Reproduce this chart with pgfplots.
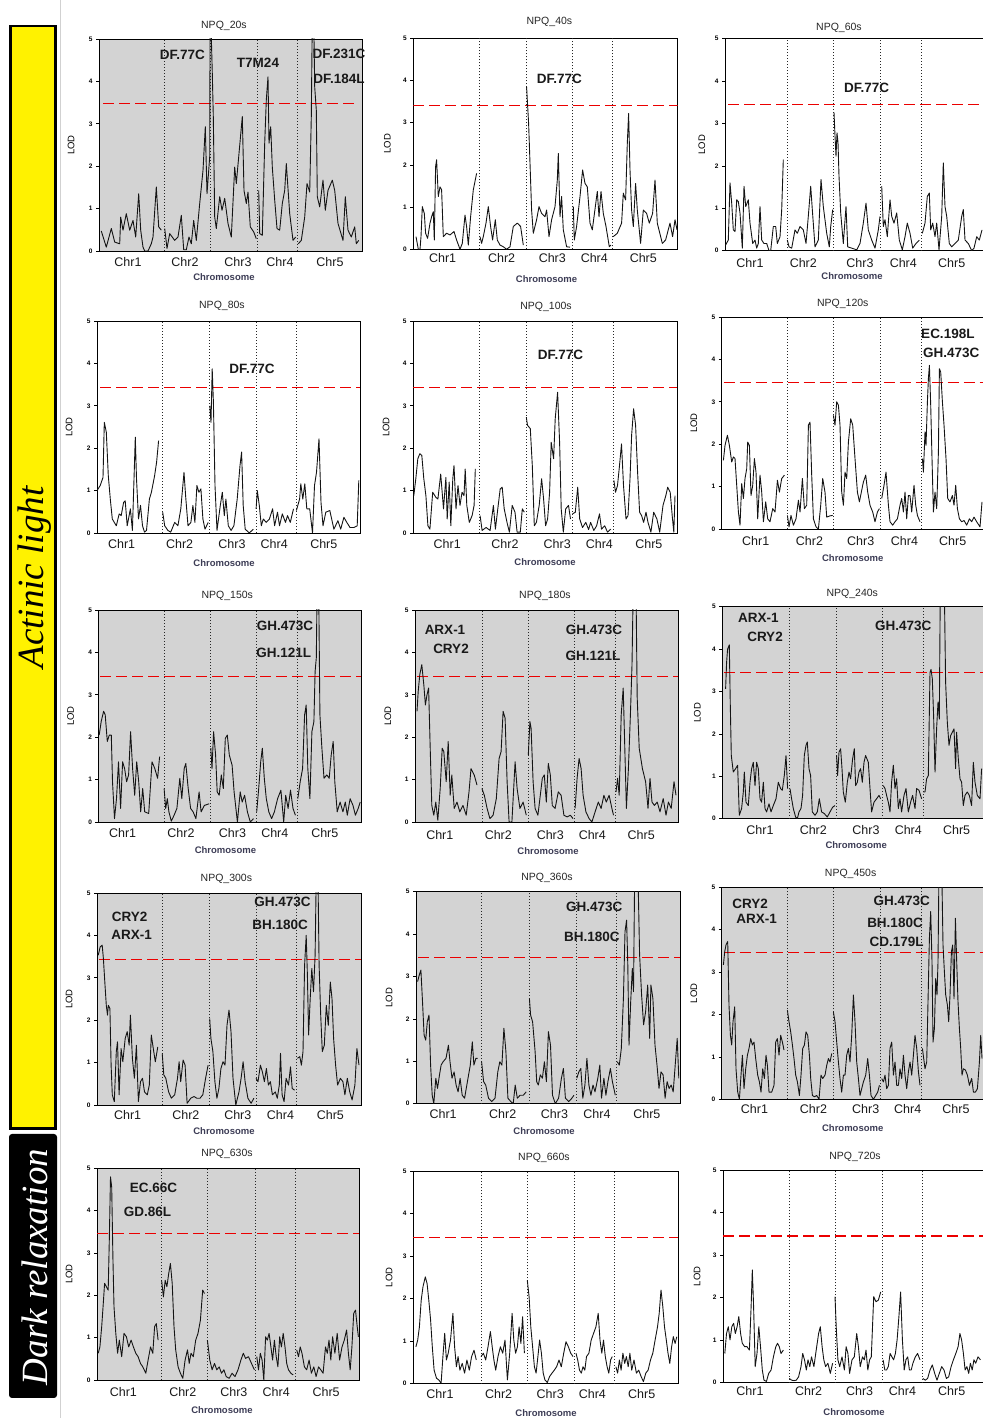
\documentclass[border=0pt]{standalone}
\usepackage{pgfplots}
\pgfplotsset{compat=1.18}
\usepackage{fontspec}
\setmainfont{Liberation Sans}
\newfontfamily\barfont{Liberation Serif}

\definecolor{panelgray}{RGB}{211,211,211}
\definecolor{chromcol}{RGB}{60,60,85}
\definecolor{thr}{RGB}{235,0,0}

\pgfplotsset{
  qtl/.style={
    scale only axis, height=212pt,
    xmin=0, ymin=0, ymax=5,
    ytick={0,1,2,3,4,5},
    ytick pos=left,
    tick align=outside,
    major tick length=3pt,
    ytick style={black, line width=0.6pt},
    xtick style={draw=none},
    every axis title shift=0pt,
    /pgf/number format/assume math mode=true,
    yticklabel style={font=\fontsize{6.5}{7}\selectfont\bfseries, xshift=0pt},
    xticklabels={Chr1,Chr2,Chr3,Chr4,Chr5},
    xticklabel style={font=\fontsize{12.5}{14}\selectfont, anchor=center, text=black!90},
    axis line style={line width=0.8pt},
    clip mode=individual,
    unbounded coords=jump,
    xlabel={Chromosome},
    ylabel={LOD},
    xlabel style={font=\fontsize{9.5}{11}\selectfont\bfseries, text=chromcol, anchor=center},
    ylabel style={font=\fontsize{9.5}{10}\selectfont, anchor=center},
    title style={font=\fontsize{10.5}{12}\selectfont, anchor=center, text=black!85},
  },
  graybg/.style={axis background/.style={fill=panelgray}},
}
\tikzset{
  lodline/.style={black!92, line width=0.9pt, line join=round},
  thrline/.style={thr, line width=1.1pt, dash pattern=on 11pt off 5pt},
  bnd/.style={black!85, line width=0.8pt, dash pattern=on 0.8pt off 2.2pt},
  mk/.style={font=\fontsize{13.5}{15}\selectfont\bfseries, text=black!90},
}
% dotted chromosome boundaries
\newcommand\chrbounds[4]{%
  \draw[bnd] (axis cs:#1,0)--(axis cs:#1,5) (axis cs:#2,0)--(axis cs:#2,5)
             (axis cs:#3,0)--(axis cs:#3,5) (axis cs:#4,0)--(axis cs:#4,5);}

\begin{document}
\begin{tikzpicture}
\useasboundingbox (0,0) rectangle (982pt,1418pt);

% side bars
\draw[black!18, line width=0.8pt] (60pt,0pt) -- (60pt,1418pt);
\draw[line width=2.6pt, fill=yellow] (10.3pt,289.3pt) rectangle (55.7pt,1392pt);
\node[rotate=90, font=\barfont\itshape\fontsize{37}{40}\selectfont] at (35pt,840.5pt) {Actinic light};
\fill[black, rounded corners=3pt] (9pt,20pt) rectangle (57pt,284pt);
\node[rotate=90, text=white, font=\barfont\itshape\fontsize{37}{40}\selectfont] at (35pt,151pt) {Dark relaxation};

%% ---------- NPQ_20s ----------
\begin{axis}[qtl, graybg, at={(99pt,1167pt)}, anchor=south west, width=263pt, xmax=263,
  xtick={29,86,139,181,231}, xticklabel style={yshift=-8pt},
  title={NPQ\_20s}, title style={at={(axis description cs:0.475,1.061)}},
  xlabel style={at={(axis description cs:0.475,-0.123)}},
  ylabel style={at={(axis description cs:-0.106,0.5)}}]
\chrbounds{65}{111.3}{158.7}{198.7}
\addplot[thrline] coordinates {(4,3.47) (257,3.47)};
\addplot[lodline] coordinates {
(2.3,0.47)(7.3,0.09)(12.3,0.53)(15.7,0.21)(20.7,0.17)(21.7,0.8)(24,0.49)(27.3,0.88)(30.7,0.49)(34,0.72)(36.7,0.33)(39.7,1.35)(41.7,0.49)(44,0.09)(45.7,0)(49,0)(52.3,0.17)(54,0.33)(57.3,1.51)(59.7,0.57)(62.3,0.49)
(64,nan)
(65.7,0.53)(68,0.06)(70.7,0.41)(75.7,0.25)(79,0.33)(82.3,0.84)(84.7,0.03)(87.3,0.03)(90,0.33)(92.3,0.17)(94.7,0.72)(97.3,0.25)(100.7,1.12)(104,1.9)(106.3,2.93)(108,1.35)(110.7,2.22)(111.1,5.5)
(111.5,nan)
(111.8,5.5)(113.3,4.19)(114.3,3.17)(115.7,0.8)(117.3,0.53)(120.7,1.28)(123,0.96)(125.7,1.24)(129,0.65)(132.3,0.33)(135.7,1.98)(137.3,1.59)(140,2.3)(143.3,3.17)(145,1.43)(147.3,1.12)(149,1.39)(151.3,0.57)(154.7,0.45)(157.3,0.29)
(158.7,nan)
(159.7,1.43)(160.7,0.41)(163.3,0.37)(165.7,2.54)(167.3,3.56)(169,4.11)(170,2.54)(171.7,2.93)(173.3,1.98)(175.7,1.2)(178,0.53)(180.7,0.49)(183.3,1.12)(185.7,1.43)(187.3,2.06)(190.7,0.88)(194,0.25)(196.7,0.33)
(198.7,nan)
(199.3,0.17)(202.3,0.25)(205.7,0.8)(208,1.59)(210.7,1.39)(212.3,3.17)(213.3,5.5)(214.7,5.5)(215.7,3.87)(217.3,3.32)(218.3,1.28)(220.7,1.04)(224,1.67)(226.3,0.96)(229,1.43)(233.3,1.67)(235.7,1.43)(239,0.65)(244,0.25)(246.3,1.28)(249,0.49)(252.3,0.33)(255.7,0.57)(257.3,0.17)(259.7,0.25)
};
\node[mk] at (axis cs:83.3,4.62) {DF.77C};
\node[mk] at (axis cs:159,4.43) {T7M24};
\node[mk] at (axis cs:240,4.66) {DF.231C};
\node[mk] at (axis cs:240,4.07) {DF.184L};
\end{axis}

%% ---------- NPQ_40s ----------
\begin{axis}[qtl, at={(413.3pt,1168.7pt)}, anchor=south west, width=264.3pt, height=211pt, xmax=264.3,
  xtick={29.3,88.3,139,181,230}, xticklabel style={yshift=-6pt},
  title={NPQ\_40s}, title style={at={(axis description cs:0.515,1.08)}},
  xlabel style={at={(axis description cs:0.504,-0.142)}},
  ylabel style={at={(axis description cs:-0.098,0.5)}}]
\chrbounds{66}{113.3}{159.3}{199}
\addplot[thrline] coordinates {(0,3.40) (264.3,3.40)};
\addplot[lodline] coordinates {
(2.7,0.30)(5,0)(6.7,0)(7.7,0.3)(9,1.01)(11,0.85)(12.3,0.38)(14.3,0.26)(16.7,0.62)(18.3,0.77)(20,0.89)(21,0.22)(22.3,1.96)(23.3,2.12)(25,1.25)(26.7,1.48)(28.3,1.41)(30,0.3)(33.3,0.38)(36.7,0.34)(40.7,0.42)(43.3,0.22)(46.7,0)(49,0.14)(51.7,0.81)(53.3,0.54)(55,0.1)(57.3,0.77)(60,1.41)(63.3,1.8)
(66,nan)
(66.7,0.3)(68.3,0.14)(70,0.3)(72.7,0.62)(75,1.01)(77.3,0.54)(79.3,0.22)(82,0.7)(84,0.22)(86.7,0.1)(90,0.06)(93.3,0)(96.7,0.06)(100,0.54)(104,0.62)(107.3,0.54)(110,0.1)
(112,nan)
(113.3,3.85)(114,3.54)(115.3,2.99)(116.7,2.04)(118.3,0.93)(120,0.38)(123.3,0.7)(125.7,1.01)(128.3,0.85)(131.7,0.77)(133.3,0.93)(135.7,0.3)(138.3,0.7)(141.7,1.01)(144,1.64)(145,2.27)(146.7,0.77)(148.3,1.25)(150,0.46)(153.3,0.06)(156.7,0.05)
(159,nan)
(160,1.01)(161,0.22)(163.3,0.54)(166.7,1.25)(169.3,1.88)(171.7,1.56)(174,1.48)(176.7,0.62)(179,0.46)(184,1.37)(185.7,0.77)(187.7,1.37)(190,0.85)(192.7,0.54)(196,0.06)(197.7,0.1)
(199,nan)
(200,0.3)(204,0.38)(208.3,0.62)(210,1.33)(212.3,1.17)(214,2.51)(215.3,3.22)(216.7,1.88)(218.3,0.93)(220,0.54)(222.3,1.56)(224,0.93)(227.3,0.14)(230,0.93)(233.3,0.85)(236,0.62)(239.3,0.85)(241.7,1.64)(244,0.62)(249,0.14)(252.3,0.22)(256.7,0.62)(259.3,0.3)(261.7,0.7)(263.7,0.46)
};
\node[mk] at (axis cs:146,4.03) {DF.77C};
\end{axis}

%% ---------- NPQ_60s ----------
\begin{axis}[qtl, at={(725pt,1167.3pt)}, anchor=south west, width=262pt, xmax=262,
  xtick={25,78.3,135,178.3,226.7}, xticklabel style={yshift=-9pt},
  title={NPQ\_60s}, title style={at={(axis description cs:0.435,1.051)}},
  xlabel style={at={(axis description cs:0.485,-0.118)}},
  ylabel style={at={(axis description cs:-0.088,0.5)}}]
\chrbounds{62.3}{108.3}{155.7}{196}
\addplot[thrline] coordinates {(3.3,3.44) (262,3.44)};
\addplot[lodline] coordinates {
(0.5,0.13)(3.3,0.25)(5,1.6)(6.7,1.12)(8.3,0.49)(10,0.45)(11.7,1.2)(13.3,1.16)(15,0.89)(17.3,0.06)(19,1.52)(20.7,1.04)(23.3,1.2)(25,0.65)(27.7,0.17)(30,0.25)(31.7,0.06)(33.3,0.17)(35,1.04)(36.7,0.25)(39,0.17)(41.7,0.17)(44,0)(45.7,0)(48.3,0.57)(50.7,0.57)(52.3,0.17)(55,0.33)(56.7,0.97)(58.3,2.15)
(61,nan)
(62.3,0.25)(64,0.09)(66.7,0.06)(70,0.49)(72.3,0.41)(75,0.57)(78.3,0.49)(81,0.17)(83.3,0.81)(85.7,1.52)(87.3,0.97)(90,0.09)(93.3,0.25)(96,1.68)(98.3,1.04)(101.7,0.41)(104.3,0.09)(105.7,0.57)(107.7,0.97)
(108.3,nan)
(109,3.26)(110,2.71)(111,2.23)(112,2.78)(113,2.55)(114,1.76)(115.7,0.89)(118.3,0.17)(121,1.04)(122.7,0.09)(126.7,0.06)(131.7,0.02)(135,0.17)(138.3,0.65)(141,1.12)(143.3,0.49)(146.7,0.25)(150,0.06)(153.3,0.49)(155,0.81)
(155.8,nan)
(156.7,1.52)(158.3,0.57)(160,0.73)(162.3,0.33)(165,1.2)(166.7,0.81)(169,0.65)(171.7,0.89)(174.3,0.25)(177.3,0.02)(180,0.33)(182.3,0.65)(185,0.41)(187.7,0.06)(191,0.17)(194.3,0.25)
(196,nan)
(197.3,0.41)(200,0.65)(202.3,1.28)(204.3,1.36)(205.7,0.49)(207.7,0.65)(210,0.33)(211.7,0.65)(214,0.02)(216.7,0.81)(218.3,2.07)(220,1.04)(221.7,0.81)(224.3,0.17)(226.7,0.09)(230,0.17)(233.3,0.25)(236.7,0.81)(238.3,0.97)(240,0.25)(243.3,0.17)(246.7,0)(249,0.06)(251.7,0.33)(254.3,0.25)(257,0.49)
};
\node[mk] at (axis cs:141.7,3.85) {DF.77C};
\end{axis}

%% ---------- NPQ_80s ----------
\begin{axis}[qtl, at={(97pt,885pt)}, anchor=south west, width=263pt, xmax=263,
  xtick={24.6,82.6,135,177.2,226.8}, xticklabel style={yshift=-8pt},
  title={NPQ\_80s}, title style={at={(axis description cs:0.475,1.07)}},
  xlabel style={at={(axis description cs:0.483,-0.142)}},
  ylabel style={at={(axis description cs:-0.106,0.5)}}]
\chrbounds{65.3}{112.8}{159.1}{199.4}
\addplot[thrline] coordinates {(3,3.43) (263,3.43)};
\addplot[lodline] coordinates {
(0,1.0)(3.2,1.12)(6,1.31)(7.3,2.61)(9.3,2.38)(11.3,1.35)(13.3,0.8)(15.3,0.33)(19.3,0.17)(22.2,0.45)(24.2,0.41)(26.6,0.72)(28.2,0.76)(30.2,0.17)(33.4,0.57)(35.4,0.06)(38.3,2.26)(39.5,1.28)(41.5,0.33)(43.5,0.65)(45.5,0.17)(47.5,0.02)(49.5,0.06)(52.4,0.8)(54.4,0.96)(57.6,1.35)(59.6,1.67)(61.6,2.18)
(63.5,nan)
(65.7,0.49)(67.7,0.17)(70.9,0.06)(73.7,0.02)(77.7,0.25)(80.9,0.17)(83.8,0.57)(87,1.43)(88.6,0.88)(91,0.17)(93.9,0.25)(95.9,0.65)(97.9,0.25)(99.9,1.12)(101.9,0.96)(103.9,1.04)(105.9,0.33)(108,0.09)(111.2,0.25)
(112,nan)
(112.8,3.0)(114,2.61)(115.2,3.87)(116.4,3.09)(118,1.12)(120,0.06)(123.3,0.65)(125.3,0.96)(127.3,0.41)(128.9,0.8)(131.3,0.17)(134.1,0.06)(136.9,0.17)(140.2,0.8)(143,1.59)(144.6,1.91)(146.2,0.65)(148.2,0.09)(152.3,0)(156.3,0.09)
(158,nan)
(159.1,0.57)(160.3,1.0)(162.3,0.65)(164.3,0.17)(166.3,0.33)(169.2,0.25)(172.4,0.33)(175.6,0.57)(177.6,0.17)(180.5,0.49)(182.5,0.17)(185.3,0.45)(188.5,0.25)(190.5,0.41)(193.3,0.25)(196.5,0.57)
(198,nan)
(199.4,0.53)(202.6,0.8)(203.8,1.16)(205.8,0.8)(207.8,1.16)(209.8,0.57)(212.7,0.57)(215.5,0)(217.5,1.12)(219.5,1.43)(222,2.22)(224,0.72)(226,0.17)(228.8,0.49)(232.8,0.53)(236.9,0.09)(240.9,0.29)(243.7,0.09)(246.9,0.37)(249.8,0.25)(253,0.13)(257,0.13)(260.2,0.17)(261.8,1.24)
};
\node[mk] at (axis cs:155,3.86) {DF.77C};
\end{axis}

%% ---------- NPQ_100s ----------
\begin{axis}[qtl, at={(413pt,885pt)}, anchor=south west, width=264pt, xmax=264,
  xtick={34.2,92,144.2,186.4,235.9}, xticklabel style={yshift=-8pt},
  title={NPQ\_100s}, title style={at={(axis description cs:0.504,1.065)}},
  xlabel style={at={(axis description cs:0.5,-0.137)}},
  ylabel style={at={(axis description cs:-0.102,0.5)}}]
\chrbounds{66.3}{113.3}{159.5}{200.5}
\addplot[thrline] coordinates {(0,3.43) (264,3.43)};
\addplot[lodline] coordinates {
(0.8,0.88)(2.8,1.28)(4.8,1.75)(6.8,1.87)(8.8,1.83)(10.8,1.28)(12.9,0.88)(14.9,0.17)(16.9,0.09)(19.7,0.96)(22.9,0.84)(24.9,0.8)(27.7,1.39)(30.5,0.57)(32.9,1.31)(34.2,0.33)(36.2,1.2)(37.8,0.17)(39.8,1.28)(41,1.59)(43,0.57)(45,1.12)(47,0.65)(49,0.96)(51,0.88)(52.2,1.51)(53.8,0.65)(56.3,0.25)(59.1,0.41)(61.1,0.65)(62.3,1.51)
(64,nan)
(67.1,0.41)(69.1,0.06)(73.1,0.13)(77.1,0.06)(80.4,0.65)(82.4,0.09)(85.2,0.65)(87.2,1.04)(89.2,1.08)(91.2,0.57)(94,0.25)(96.4,0.02)(99.2,0.65)(102,0.49)(104.1,0.02)(107.3,0.02)(109.3,0.57)(111.3,0.49)
(112.3,nan)
(113.3,2.73)(114.5,2.54)(117.3,2.46)(119.3,1.59)(121.3,0.17)(123.4,0.25)(126.2,0.65)(128.6,1.28)(130.6,0.8)(132.6,0.17)(134.6,0.33)(136.6,0.96)(138.2,2.14)(140.6,1.75)(142.2,2.69)(144.6,3.32)(146.6,2.14)(148.2,0.57)(150.3,0.02)(152.7,0.57)(155.5,0.65)(157.5,0.33)
(158.5,nan)
(159.5,0.45)(162.3,0.49)(164.7,1.08)(166.7,0.33)(169.5,0.13)(172.8,0.25)(175.6,0.08)(177.6,0.25)(180.8,0.06)(183.6,0.17)(186.5,0.45)(188.5,0.09)(191.7,0.17)(194.5,0.02)(197.7,0.09)
(199.5,nan)
(200.9,1.24)(202.5,0.96)(204.5,1.12)(206.5,1.59)(208.5,2.1)(210.5,1.12)(213,0.33)(215,0.41)(217,1.28)(218.6,2.3)(220.6,2.93)(222.6,2.54)(224.6,1.43)(226.6,0.49)(228.6,0.41)(230.6,0.25)(233,0.49)(235,0.25)(237.9,0.02)(240.7,0.49)(243.9,0.33)(246.7,0.02)(250,0.65)(252.8,0.88)(254.7,1.08)(257.2,0.96)(259.2,0.41)(260.8,0.02)(262,0.88)
};
\node[mk] at (axis cs:147.5,4.19) {DF.77C};
\end{axis}

%% ---------- NPQ_120s ----------
\begin{axis}[qtl, at={(721.7pt,889pt)}, anchor=south west, width=262pt, xmax=262,
  xtick={34,87.7,139,182.7,231}, xticklabel style={yshift=-9pt},
  title={NPQ\_120s}, title style={at={(axis description cs:0.462,1.061)}},
  xlabel style={at={(axis description cs:0.5,-0.137)}},
  ylabel style={at={(axis description cs:-0.106,0.5)}}]
\chrbounds{65.7}{111.7}{159}{200}
\addplot[thrline] coordinates {(2,3.46) (262,3.46)};
\addplot[lodline] coordinates {
(1.7,1.62)(3.3,1.97)(5.7,2.21)(7.7,1.97)(10,1.58)(11.7,1.7)(13.3,1.66)(15,1.03)(16.7,0.4)(18.3,0.09)(20,1.07)(21.7,0.72)(23.3,1.19)(25,1.42)(26,2.05)(27.7,1.97)(29.3,0.79)(31,1.03)(32.7,1.66)(34.3,1.34)(36,0.24)(38.3,1.27)(40,0.87)(41.7,0.17)(44,0.64)(46,0.24)(48.3,0.17)(51,0.48)(53.3,0.4)(55.7,1.15)(57.7,0.87)(60,1.19)(62.7,1.27)
(64.5,nan)
(65.7,0.32)(67.3,0.05)(69.3,0.32)(71.7,0.09)(74.3,0.24)(76.7,0.68)(78.3,0.4)(80.7,1.19)(82.7,0.48)(85,0.56)(86.7,2.45)(88.3,2.52)(90,1.27)(91.7,0.24)(94.3,0.05)(96.7,0)(99,0.56)(101,1.19)(103.3,0.87)(105,0.28)(108.3,0.31)(111,0.32)
(111.4,nan)
(111.7,2.68)(113.3,2.45)(115,3.0)(116.7,2.92)(118.3,2.45)(120,0.87)(121.7,0.56)(123.3,1.34)(125,1.19)(126.7,2.05)(129,2.6)(131,2.45)(133.3,1.66)(135.7,0.87)(137.7,0.64)(139.3,0.83)(141.7,1.11)(144,1.27)(146,0.87)(148.3,0.56)(151,0.4)(153.3,0.17)(155.7,0.4)(157.7,0.48)
(159,nan)
(160,0.72)(162.3,1.03)(164.3,1.34)(166.7,0.56)(168.3,0.17)(171,0.09)(173.3,0.17)(175.7,0.24)(178.3,0.56)(180,0.72)(181.7,0.4)(183.3,0.87)(185,0.24)(186.7,0.79)(188.3,0.79)(190,0.4)(192.3,1.03)(194,0.56)(195.7,0.32)(198.3,0.17)
(199.5,nan)
(200.7,1.66)(201.7,1.34)(203.3,2.29)(204.3,1.97)(205.7,3.0)(206.7,3.55)(207.7,3.86)(209,2.92)(210.3,1.66)(211.7,0.4)(213.3,0.87)(215,0.48)(216.7,1.82)(217.7,3.78)(219,3.7)(220.7,3.0)(222.3,2.45)(224.3,1.66)(226,0.72)(228.3,0.64)(230.7,0.79)(232.3,0.56)(234,1.03)(235.7,0.48)(237.7,0.24)(240,0.17)(242.3,0.2)(245,0.09)(247.7,0.24)(250,0.17)(252.3,0.28)(255,0.17)(258.3,0.05)(260.3,0.64)
};
\node[mk, anchor=west] at (axis cs:196,4.61) {EC.198L};
\node[mk, anchor=west] at (axis cs:197.8,4.15) {GH.473C};
\end{axis}

%% ---------- NPQ_150s ----------
\begin{axis}[qtl, graybg, at={(98.4pt,596pt)}, anchor=south west, width=263pt, xmax=263,
  xtick={24.2,82.6,134.1,176.4,226.4}, xticklabel style={yshift=-8pt},
  title={NPQ\_150s}, title style={at={(axis description cs:0.49,1.065)}},
  xlabel style={at={(axis description cs:0.483,-0.132)}},
  ylabel style={at={(axis description cs:-0.106,0.5)}}]
\chrbounds{65.7}{112.4}{158.3}{198.6}
\addplot[thrline] coordinates {(2,3.44) (263,3.44)};
\addplot[lodline] coordinates {
(0.8,2.05)(2.8,2.37)(5.2,2.61)(6.8,2.53)(8.9,1.9)(10.9,2.05)(12.9,2.05)(14.1,0.95)(16.1,0.08)(18.1,0.55)(20.1,1.42)(22.2,0.32)(24.2,1.42)(26.2,1.26)(28.2,0.95)(30.2,1.11)(32.2,2.13)(34.2,1.26)(36.3,0.63)(38.3,1.42)(40.3,0.95)(42.3,0.24)(44.3,0.79)(46.3,0.24)(50.3,0.2)(53.6,1.42)(56.4,1.26)(59.2,1.03)(61.2,1.54)
(63.5,nan)
(65.7,0.79)(67.3,0.32)(68.9,0.55)(70.5,0.24)(72.9,0.02)(75.7,0.16)(78.5,0.32)(81.4,1.03)(83.4,0.55)(85.8,1.26)(87.4,1.38)(89.8,0.79)(92.2,0.32)(94.7,0.24)(97.5,0.08)(100.7,0.71)(102.7,0.24)(105.9,0.39)(110.8,0.43)
(111.6,nan)
(112.4,1.74)(113.6,1.26)(115.2,2.13)(117.2,1.58)(118.8,0.71)(120.8,0.63)(122.9,1.11)(124.9,0.79)(126.9,1.97)(128.9,2.05)(130.9,1.58)(133.7,1.34)(135.7,0.71)(139,0)(141.8,0.71)(143.8,0.47)(146.2,0.63)(149,0.24)(151.9,0)(155.1,0.08)
(157,nan)
(158.3,0.24)(160.3,0.79)(162.3,1.42)(163.9,1.74)(165.9,1.03)(167.9,0.55)(170.4,0.24)(173.2,0.08)(176,0.24)(179.2,0.55)(182.5,0.75)(185.3,0)(187.3,0.63)(189.7,0.32)(192.1,0.75)(194.6,0.32)(197,0.16)
(198.5,nan)
(199.4,0.55)(201.8,0.95)(204.2,1.26)(206.2,2.53)(207.8,2.76)(209.4,1.26)(211.5,0.55)(213.5,2.13)(215.5,2.37)(216.7,3.55)(217.9,3.87)(218.7,5.5)(220.3,5.5)(221.5,2.53)(223.5,1.74)(225.6,1.03)(228.4,1.11)(230.8,1.03)(232.8,1.58)(234.8,1.9)(236.4,0.95)(238.8,0.24)(241.7,0.47)(244.5,0.24)(246.9,0.47)(248.9,0.16)(251.7,0.55)(254.6,0.39)(257,0.16)(259.8,0.32)(261.8,0.47)
};
\node[mk] at (axis cs:186.5,4.62) {GH.473C};
\node[mk] at (axis cs:185.3,3.99) {GH.121L};
\end{axis}

%% ---------- NPQ_180s ----------
\begin{axis}[qtl, graybg, at={(415pt,596pt)}, anchor=south west, width=263pt, xmax=263,
  xtick={24.8,83.3,135.3,177.3,226.2}, xticklabel style={yshift=-10pt},
  title={NPQ\_180s}, title style={at={(axis description cs:0.494,1.065)}},
  xlabel style={at={(axis description cs:0.506,-0.137)}},
  ylabel style={at={(axis description cs:-0.103,0.5)}}]
\chrbounds{66.9}{113.3}{159.3}{200.2}
\addplot[thrline] coordinates {(2,3.44) (263,3.44)};
\addplot[lodline] coordinates {
(2,2.61)(3.2,3.08)(4.8,3.48)(6.8,3.71)(8.8,3.24)(10.4,2.76)(12,3.0)(13.6,3.16)(15.2,1.74)(16.8,0.39)(18.8,0.16)(20.8,0.47)(22.8,0.04)(25.2,0.79)(27.2,1.74)(28.8,1.66)(31.2,0.95)(33.2,1.9)(35.2,0.63)(36.8,1.11)(39.2,0.32)(42,0.47)(44.8,0.24)(48,0.39)(51.2,0.16)(54,0.71)(56,1.26)(59.2,1.11)(62,0.87)
(65,nan)
(66.9,0.79)(69.3,0.63)(72.1,0.32)(74.9,0.08)(78.1,0.16)(81.3,0.55)(84.1,1.5)(86.1,1.66)(88.1,2.61)(90.1,2.45)(92.1,0.95)(94.1,0)(96.9,0)(100.1,1.42)(102.1,0.79)(104.9,0.32)(108.1,0.47)(111.3,0.16)
(112.3,nan)
(113.3,1.58)(114.9,2.37)(116.1,2.21)(118.1,0.95)(120.1,0.32)(122.9,0.16)(125.3,0.63)(127.3,1.03)(129.3,1.11)(131.3,0.47)(133.3,1.38)(135.3,1.11)(137.3,0.39)(140.1,0.32)(143.3,0.71)(146.1,0.63)(148.9,0.16)(152.1,0.12)(155.3,0.16)(158.1,0.08)
(159,nan)
(160.1,0.32)(162.1,1.03)(164.1,1.5)(166.1,1.26)(168.1,0.63)(170.9,0.24)(174.1,0.08)(176.9,0)(180.1,0.24)(183.3,0.47)(186.1,0.32)(188.9,0.63)(191.3,0.47)(194.1,0.63)(196.9,0.32)(198.5,0.16)
(200,nan)
(201,0.71)(202.6,1.03)(204.2,0.63)(206.2,2.53)(208.2,3.16)(209.8,1.74)(211.4,0.32)(213.4,1.26)(215.4,2.53)(217,3.71)(218.2,5.5)(221,5.5)(222.2,2.92)(224.2,1.74)(227.4,1.26)(230.6,0.95)(233,0.32)(235,1.03)(237,0.47)(239.4,0.39)(242.2,0.47)(245,0.24)(248.2,0.55)(251,0.16)(253.4,0.47)(256.2,0.32)(259,0.95)(261,0.63)
};
\node[mk] at (axis cs:30,4.54) {ARX-1};
\node[mk] at (axis cs:36,4.08) {CRY2};
\node[mk] at (axis cs:179,4.54) {GH.473C};
\node[mk] at (axis cs:178.1,3.91) {GH.121L};
\end{axis}

%% ---------- NPQ_240s ----------
\begin{axis}[qtl, graybg, at={(722.3pt,599.3pt)}, anchor=south west, width=262pt, xmax=262,
  xtick={37.7,91,143.7,186,234.3}, xticklabel style={yshift=-8pt},
  title={NPQ\_240s}, title style={at={(axis description cs:0.496,1.061)}},
  xlabel style={at={(axis description cs:0.511,-0.123)}},
  ylabel style={at={(axis description cs:-0.095,0.5)}}]
\chrbounds{67}{114.3}{160.3}{201}
\addplot[thrline] coordinates {(2,3.45) (262,3.45)};
\addplot[lodline] coordinates {
(3.3,3.06)(4.3,3.69)(5.3,4.0)(7,4.1)(8,2.67)(9,1.49)(11,1.1)(13.3,1.18)(15.3,1.26)(17,0.08)(19.3,0.24)(21,0.63)(22,1.1)(23.7,0.39)(26,0.31)(27.7,0.86)(29.3,1.18)(31,1.33)(32.7,0.78)(34.3,1.33)(36,1.18)(37.7,0.47)(39.3,0.39)(41,0.86)(42.7,0.24)(44.3,0.16)(46.7,0.35)(48.7,0.16)(51,0.31)(53.7,0.47)(56,0.86)(58.3,0.71)(60,0.67)(62,1.02)(63.7,1.49)(65.3,0.71)
(66.5,nan)
(67.7,0.71)(69.3,0.47)(71,0.24)(73.3,0.04)(75,0)(76.7,0.16)(78.7,0.24)(80.3,0.55)(82,1.49)(83.7,1.73)(85,1.81)(86.7,1.18)(88.3,1.02)(90,0.16)(92.7,0.08)(95,0.16)(97,0.47)(99.3,0.16)(102,0.12)(105,0.04)(107.7,0.16)(110.3,0.27)(112.7,0.31)
(113.5,nan)
(114.3,1.49)(115.3,1.02)(116.7,1.57)(118.3,1.65)(119.7,1.18)(121,0.63)(123,0.39)(125,0.86)(126.7,1.1)(128.3,0.94)(130.3,1.41)(132,1.65)(133.3,0.78)(135,0.86)(136.7,1.1)(138.3,1.18)(140,0.86)(141.7,1.33)(143.3,1.49)(146,1.33)(147.7,0.71)(149.3,0.16)(151.7,0.39)(154.3,0.47)(156.7,0.55)(158.3,0.47)
(160,nan)
(161,0.78)(162.7,0.71)(164.3,0.55)(166,0.39)(167.7,0.16)(169.3,0.86)(171,1.26)(172.7,0.71)(174.3,0.94)(176,0.24)(177.7,0.47)(179.3,0.16)(181.7,0.55)(183.7,0.71)(186,0.16)(188.3,0.39)(190.3,0.55)(192.7,0.24)(194.3,0.71)(196.7,0.67)(199.3,0.47)
(200.3,nan)
(201,0.63)(202.7,0.63)(204.3,0.94)(206,1.02)(207.7,3.45)(208.7,3.52)(210,3.3)(211.3,2.43)(212.7,1.1)(214.3,2.12)(215.7,2.75)(217,2.35)(218,5.5)(222,5.5)(223.3,3.22)(225,2.28)(226.7,1.73)(228.3,1.96)(230,2.04)(231.7,2.12)(233.3,1.18)(234.3,2.04)(236,1.41)(237.7,0.94)(239.3,0.86)(241,0.31)(242.7,0.55)(245,0.63)(247,0.55)(249.3,0.31)(251,1.33)(252.7,0.86)(255,0.55)(257.7,0.47)(259.3,1.18)
};
\node[mk] at (axis cs:36,4.73) {ARX-1};
\node[mk] at (axis cs:42.7,4.3) {CRY2};
\node[mk] at (axis cs:181,4.55) {GH.473C};
\end{axis}

%% ---------- NPQ_300s ----------
\begin{axis}[qtl, graybg, at={(97pt,313pt)}, anchor=south west, width=264pt, xmax=264,
  xtick={30.6,88.9,140.8,183.5,233.4}, xticklabel style={yshift=-7pt},
  title={NPQ\_300s}, title style={at={(axis description cs:0.49,1.065)}},
  xlabel style={at={(axis description cs:0.481,-0.123)}},
  ylabel style={at={(axis description cs:-0.106,0.5)}}]
\chrbounds{65.2}{112.7}{159}{199.2}
\addplot[thrline] coordinates {(2,3.43) (264,3.43)};
\addplot[lodline] coordinates {
(1.2,3.53)(3.2,3.73)(5.2,3.77)(6.4,3.45)(8,2.83)(9.3,2.35)(10.5,2.12)(11.3,2.35)(12.9,2.28)(14.1,0.94)(15.3,0.24)(17.3,0.08)(19.3,1.26)(20.5,1.49)(22.1,0.24)(24.1,1.33)(25.8,1.02)(28.2,1.57)(30.2,1.73)(32.2,1.41)(33.4,2.12)(35.4,1.1)(37.4,0.63)(39.4,1.41)(41.4,0.08)(43.5,0.55)(45.5,0.63)(47.5,0.31)(50.3,0.24)(52.3,0.47)(54.3,1.65)(56.3,1.33)(58.3,1.02)(60.8,1.37)
(63,nan)
(65.2,1.22)(66.8,0.71)(68.8,0.63)(71.6,0.31)(74.4,0.16)(77.7,0.24)(80.5,0.63)(82.1,1.02)(83.7,0.55)(86.1,1.06)(88.1,0.94)(90.1,0.04)(93.8,0.16)(97,0.2)(99.8,0.16)(103,0.16)(105.8,0.24)(108.6,0.63)(111.1,0.94)
(112,nan)
(112.7,2.04)(113.9,1.57)(115.9,1.26)(117.9,0.55)(119.9,0.16)(121.9,0.39)(123.9,0.86)(126,1.02)(128,0.94)(130,1.88)(132,2.24)(134,1.73)(136,0.63)(138.8,0)(142,0.31)(144.1,0.63)(146.1,1.02)(148.1,0.55)(150.9,0.16)(154.1,0.04)(156.9,0.16)
(158,nan)
(159,0.63)(161,0.55)(163.4,0.94)(165.4,0.78)(167.4,0.55)(169.4,0.86)(171.4,0.47)(173.4,0.55)(175.4,0.24)(178.3,0.31)(180.3,0.16)(182.3,0.47)(183.5,1.22)(185.1,0.24)(187.1,0.08)(189.1,0.63)(191.5,0.47)(193.5,0.9)(195.2,0.39)(197.6,0.35)
(199,nan)
(200.4,1.1)(202.8,1.14)(204.4,0.94)(206,1.26)(207.6,3.3)(209.2,4.0)(210.4,3.06)(211.6,1.65)(213.2,2.51)(214.8,3.22)(216.5,2.67)(218.1,3.53)(219.3,5.5)(220.9,5.5)(222.1,3.3)(223.7,2.12)(225.3,1.26)(227.3,1.41)(229.3,2.35)(231.3,1.88)(233.3,2.9)(235,2.51)(236.6,1.57)(238.6,0.94)(240.6,0.47)(243.4,0.63)(245.9,0.55)(247.9,0.24)(250.3,0.63)(252.7,0.31)(255.1,0.12)(257.9,0.47)(259.9,1.33)(262,0.94)
};
\node[mk] at (axis cs:32.6,4.43) {CRY2};
\node[mk] at (axis cs:34.6,4.02) {ARX-1};
\node[mk] at (axis cs:185.5,4.8) {GH.473C};
\node[mk] at (axis cs:183.1,4.24) {BH.180C};
\end{axis}

%% ---------- NPQ_360s ----------
\begin{axis}[qtl, graybg, at={(416pt,314.3pt)}, anchor=south west, width=264pt, xmax=264,
  xtick={27.1,86.7,138.5,181,230.9}, xticklabel style={yshift=-7pt},
  title={NPQ\_360s}, title style={at={(axis description cs:0.496,1.065)}},
  xlabel style={at={(axis description cs:0.485,-0.127)}},
  ylabel style={at={(axis description cs:-0.102,0.5)}}]
\chrbounds{65.6}{113.4}{160}{200.5}
\addplot[thrline] coordinates {(2,3.45) (264,3.45)};
\addplot[lodline] coordinates {
(1.6,2.88)(3.2,3.03)(4.9,3.15)(6.5,2.41)(8.1,1.62)(9.7,1.5)(11.3,1.93)(13,2.09)(14.6,0.91)(16.2,0.2)(17.8,0)(19.8,0.6)(21.5,0.36)(23.5,0.68)(25.1,0.91)(27.1,0.99)(30,1.07)(32.4,1.38)(34,0.99)(36,0.6)(38.1,0.75)(40.1,0.44)(42.1,0.28)(44.1,0.6)(46.2,0.2)(48.6,0.13)(51.4,0.52)(54.3,0.91)(56.3,1.46)(57.9,0.91)(59.9,1.07)(61.6,1.07)
(64,nan)
(65.6,0.99)(67.6,0.52)(69.7,0.44)(72.5,0.13)(75.7,0.05)(79,0.13)(81.8,0.75)(83.8,0.99)(85.9,0.91)(87.9,1.78)(89.9,1.23)(91.9,0.13)(94.8,0.05)(97.2,0)(99.2,0.44)(101.3,0.13)(104.1,0.2)(107.3,0.2)(110.2,0.28)
(112,nan)
(113.4,2.48)(114.6,2.09)(116.6,1.93)(119.1,1.23)(120.7,0.52)(122.3,0.44)(124.3,0.68)(126.4,0.6)(128.4,0.99)(130.4,0.52)(132.4,1.7)(134.5,1.38)(136.5,0.2)(139.3,0)(142.6,0.13)(145.4,0.6)(147.4,0.83)(149.4,0.13)(152.7,0.05)(155.9,0.13)(157.9,0.2)
(159,nan)
(160.8,0.6)(162.8,0.75)(164.8,0.83)(166.8,0.13)(168.9,0.44)(170.9,1.07)(172.9,0.44)(174.9,0.2)(177,0.44)(179,0.28)(181.8,0.6)(183.8,0.91)(185.5,0.13)(187.9,0.6)(189.9,0.2)(191.9,0.52)(194.4,0.83)(196.4,0.52)(199.3,0.2)
(200.3,nan)
(201.3,0.99)(203.3,0.91)(205.3,1.3)(207.4,2.48)(209,4.06)(210.6,4.33)(211.8,3.27)(213,1.38)(214.7,2.41)(216.3,3.19)(217.5,2.64)(218.7,5.5)(221.9,5.5)(223.6,3.51)(225.6,2.56)(227.6,1.86)(229.6,2.17)(231.7,2.8)(233.7,1.54)(234.9,2.8)(236.9,2.48)(239,1.38)(241,0.91)(243,0.36)(245,0.75)(247.1,0.68)(249.1,0.13)(251.1,0.52)(253.1,0.36)(255.2,0.44)(257.2,0.28)(259.2,0.91)(261.2,1.54)(262.8,0.6)
};
\node[mk] at (axis cs:178.2,4.65) {GH.473C};
\node[mk] at (axis cs:175.8,3.94) {BH.180C};
\end{axis}

%% ---------- NPQ_450s ----------
\begin{axis}[qtl, graybg, at={(721.7pt,318.7pt)}, anchor=south west, width=262pt, xmax=262,
  xtick={32.7,91.7,144,186,234.3}, xticklabel style={yshift=-7pt},
  title={NPQ\_450s}, title style={at={(axis description cs:0.492,1.061)}},
  xlabel style={at={(axis description cs:0.5,-0.137)}},
  ylabel style={at={(axis description cs:-0.106,0.5)}}]
\chrbounds{65.7}{111.7}{159}{200}
\addplot[thrline] coordinates {(2,3.46) (262,3.46)};
\addplot[lodline] coordinates {
(1.7,3.17)(3,3.48)(4.3,3.64)(6,3.72)(7.3,2.22)(8.7,1.51)(10,1.28)(11.3,1.83)(13,2.18)(14.3,0.72)(16,0.17)(17.7,0)(19.3,0.57)(20.7,1.04)(22.3,0.25)(24,0.72)(25.7,1.04)(27.3,1.2)(29,1.43)(30.7,1.28)(32.3,1.35)(34,0.96)(36,0.57)(37.7,0.41)(39.3,0.17)(41,0.72)(42.7,0.49)(44.3,1.04)(45.7,0.8)(47.3,0.17)(50,0.17)(52.3,0.33)(54,1.35)(55.7,1.43)(57.3,1.04)(59,1.51)(60.7,1.35)(62.3,1.16)
(64.5,nan)
(65.7,2.1)(67.3,1.83)(69,1.59)(70.7,1.28)(72.3,0.96)(74,0.57)(75.7,0.41)(77.7,0.09)(79.3,0.57)(81,1.2)(82.7,1.28)(84.3,1.59)(86,1.51)(87.7,1.04)(89,0.49)(90.7,0.09)(92.7,0.06)(95,0.09)(97.3,0)(99.3,0.57)(101,0.49)(103.3,0.57)(105,0.8)(106.7,0.96)(108.3,0.88)(110,1.08)
(111,nan)
(111.7,2.06)(113.3,1.83)(115,1.35)(116.7,0.88)(118.3,0.49)(120,0.17)(121.7,0.57)(123.3,0.57)(125,1.04)(126.7,1.2)(128.3,0.88)(130,1.51)(131.7,2.46)(133.3,1.83)(135,0.88)(136.7,0.49)(138.3,0.09)(140,0.25)(141.7,0.41)(144,0.57)(146,0.96)(147.7,0.57)(149.3,0.09)(151.7,0)(154,0.09)(156,0.17)(157.7,0.33)
(159,nan)
(160,0.49)(161.7,0.41)(163.3,0.57)(165,0.25)(166.7,0.33)(168.3,1.2)(170,1.35)(171.7,0.57)(173.3,0.88)(175,0.33)(176.7,0.33)(178.3,0.72)(180,0.49)(181.7,1.04)(183.3,0.57)(185,0.25)(186.7,0.65)(188.3,0.88)(190,0.57)(191.7,1.04)(193.3,1.51)(195,1.2)(196.7,0.65)(198.3,0.33)
(199.5,nan)
(200.7,1.2)(202,0.96)(203.3,0.72)(205,0.88)(206.3,2.3)(207.7,3.8)(209,4.43)(210.3,3.24)(211.3,1.35)(212.7,1.67)(214,2.85)(215.3,2.46)(216.3,3.24)(217.3,5.5)(220,5.5)(221.3,3.64)(222.7,3.0)(224,2.46)(225.7,2.22)(227,1.83)(228.3,2.46)(229.7,3.48)(231,3.64)(232.3,2.37)(233.7,4.27)(235,3.24)(236.3,2.3)(237.7,1.67)(239,1.2)(240.3,0.57)(241.7,0.72)(243.7,0.69)(245.7,0.57)(247.7,0.33)(250,0.49)(251.7,0.17)(253.7,0.17)(255.7,0.25)(257.7,0.88)(259,1.51)(260.3,0.96)
};
\node[mk] at (axis cs:28.3,4.62) {CRY2};
\node[mk] at (axis cs:35,4.25) {ARX-1};
\node[mk] at (axis cs:180,4.68) {GH.473C};
\node[mk] at (axis cs:173.3,4.15) {BH.180C};
\node[mk] at (axis cs:175,3.72) {CD.179L};
\end{axis}

%% ---------- NPQ_630s ----------
\begin{axis}[qtl, graybg, at={(97pt,38pt)}, anchor=south west, width=262pt, xmax=262,
  xtick={26.4,85.8,136.9,179.2,229.1}, xticklabel style={yshift=-9pt},
  title={NPQ\_630s}, title style={at={(axis description cs:0.496,1.065)}},
  xlabel style={at={(axis description cs:0.477,-0.142)}},
  ylabel style={at={(axis description cs:-0.106,0.5)}}]
\chrbounds{64.6}{110.4}{158.6}{198.5}
\addplot[thrline] coordinates {(0,3.45) (262,3.45)};
\addplot[lodline] coordinates {
(1.2,0.63)(2.9,0.78)(4.7,1.26)(6.5,1.88)(7.6,2.28)(9.4,2.2)(11.2,2.12)(12.3,3.3)(13.5,4.79)(14.7,4.55)(15.9,2.9)(17,1.73)(18.8,1.1)(20.6,0.63)(22.3,0.94)(24.7,0.55)(27,1.1)(29.4,1.02)(31.7,0.78)(34.1,0.94)(36.4,0.78)(38.8,0.63)(41.1,0.55)(43.5,0.39)(45.8,0.31)(48.8,0.16)(51.1,0.47)(53.5,0.78)(55.8,0.63)(57.6,1.26)(59.3,1.33)(61.1,0.94)
(63,nan)
(64.6,2.35)(66.4,1.96)(68.2,2.35)(69.9,2.2)(71.7,2.51)(73.4,2.75)(75.2,2.28)(77,1.26)(78.7,0.71)(81.1,0.31)(83.4,0.16)(85.8,0.04)(88.1,0.47)(90.5,0.71)(92.2,0.39)(94,0.63)(96.3,0.55)(98.7,0.94)(101,1.1)(103.4,1.41)(105.7,2.12)(107.5,2.04)
(109,nan)
(110.4,0.94)(112.8,0.47)(115.1,0.24)(117.5,0.39)(119.8,0.24)(122.2,0.31)(124.5,0.16)(126.9,0.24)(129.2,0.08)(132.2,0.04)(135.1,0.16)(138,0.08)(141,0.24)(143.9,0.47)(146.3,0.63)(148.6,0.51)(151.5,0.55)(154.5,0.39)(157.4,0.24)
(158.5,nan)
(159.8,0.55)(161.5,0.24)(163.3,0.63)(165.1,0.47)(166.8,0)(168.6,1.02)(170.3,0.94)(172.1,1.1)(173.9,0.78)(175.6,0.47)(177.4,0.94)(179.2,0.55)(180.9,0.31)(182.7,1.02)(184.4,0.78)(186.2,1.1)(188,0.78)(189.7,0.39)(191.5,0.24)(193.8,0.16)(196.2,0.12)
(198,nan)
(199.7,0.71)(201.5,0.55)(203.2,0.78)(205,0.63)(207.4,0.31)(209.7,0.24)(212.1,0.47)(214.4,0.16)(216.8,0.31)(219.1,0.08)(221.5,0.31)(223.8,0.24)(226.1,0.16)(228.5,0.78)(230.3,0.63)(232,0.94)(233.8,0.47)(235.6,1.02)(237.9,0.63)(240.2,1.1)(242.6,0.47)(245,0.78)(247.3,0.94)(249.6,1.18)(251.4,0.63)(253.2,0.24)(254.9,0.78)(256.7,1.57)(258.5,1.65)(260.2,1.26)(261.4,1.02)
};
\node[mk] at (axis cs:56.4,4.53) {EC.66C};
\node[mk] at (axis cs:50.5,3.96) {GD.86L};
\end{axis}

%% ---------- NPQ_660s ----------
\begin{axis}[qtl, at={(413pt,34.7pt)}, anchor=south west, width=265pt, xmax=265,
  xtick={27,85.6,137.2,179.4,228.7}, xticklabel style={yshift=-8pt},
  title={NPQ\_660s}, title style={at={(axis description cs:0.494,1.065)}},
  xlabel style={at={(axis description cs:0.502,-0.142)}},
  ylabel style={at={(axis description cs:-0.09,0.5)}}]
\chrbounds{68}{114.3}{161.8}{201.7}
\addplot[thrline] coordinates {(0,3.43) (265,3.43)};
\addplot[lodline] coordinates {
(2.9,0.86)(4.7,1.02)(6.4,1.33)(8.2,1.96)(10,2.28)(12.3,2.51)(14.1,2.35)(15.8,1.96)(17.6,1.49)(19.3,0.86)(21.1,0.31)(23.5,0.12)(25.8,0.08)(28.1,0)(29.9,0.63)(31.7,1.18)(33.4,0.55)(35.2,0.71)(37.5,1.02)(39.9,1.65)(41.6,0.86)(43.4,0.39)(45.1,0.63)(46.9,0.31)(49.2,0.47)(51.6,0.24)(53.9,0.55)(56.3,0.31)(58.6,0.63)(61,0.78)(63.3,0.55)
(66,nan)
(68,0.63)(70.4,0.71)(72.7,0.55)(75,0.86)(77.4,1.22)(79.2,0.86)(80.9,0.55)(82.7,0.31)(85,0.63)(87.4,0.86)(89.7,0.71)(92,1.02)(94.4,0.08)(96.7,0.71)(99.1,1.65)(100.8,1.02)(102.6,0.71)(104.4,0.86)(106.1,1.33)(107.9,0.94)(109.6,1.57)(111.4,0.71)
(113,nan)
(114.3,2.43)(116.1,2.04)(117.8,1.33)(119.6,0.86)(121.4,0.39)(123.1,0.24)(124.9,0.63)(126.6,1.02)(128.4,0.71)(130.2,0.24)(131.9,0.08)(134.3,0.02)(136.6,0.16)(139,0.24)(141.3,0.31)(143.6,0.39)(146,0.55)(148.3,0.39)(150.7,0.71)(153,0.98)(155.4,0.86)(157.7,0.71)(160.1,0.63)
(161.5,nan)
(163,0.71)(164.7,0.55)(166.5,0.31)(168.3,0.24)(170,0.39)(171.8,0.31)(173.5,0.63)(175.9,0.71)(178.2,1.02)(180.6,1.18)(182.9,1.33)(185.2,1.65)(187,1.02)(188.8,0.71)(190.5,1.02)(192.3,0.63)(194.1,0.39)(195.8,0.24)(197.6,0.55)(199.3,0.63)
(201,nan)
(202.9,0.39)(204.6,0.24)(206.4,0.55)(208.1,0.31)(209.9,0.71)(211.7,0.47)(213.4,0.63)(215.2,0.39)(216.9,0.71)(218.7,0.31)(221,0.55)(223.4,0.24)(225.7,0.31)(228.1,0.16)(230.4,0.04)(232.8,0.24)(235.1,0.31)(237.5,0.55)(239.8,0.71)(242.1,1.02)(244.5,1.33)(246.2,1.65)(248,2.2)(249.8,1.81)(251.5,1.33)(253.3,1.02)(255,0.71)(256.8,0.47)(258.6,0.86)(260.3,1.1)(262.1,0.94)(263.8,1.1)
};
\end{axis}

%% ---------- NPQ_720s ----------
\begin{axis}[qtl, at={(723pt,35.7pt)}, anchor=south west, width=262pt, xmax=262,
  xtick={27,85.6,136.6,179.4,228.7}, xticklabel style={yshift=-6pt},
  title={NPQ\_720s}, title style={at={(axis description cs:0.504,1.065)}},
  xlabel style={at={(axis description cs:0.5,-0.142)}},
  ylabel style={at={(axis description cs:-0.099,0.5)}}]
\chrbounds{66.3}{112}{158.9}{199.3}
\addplot[thrline] coordinates {(0,3.45) (262,3.45)};
\addplot[lodline] coordinates {
(1.8,0.68)(3.5,1.15)(5.3,1.31)(7,1.0)(8.8,1.31)(10.6,1.39)(12.3,1.15)(14.1,1.31)(15.8,1.55)(17.6,1.15)(19.3,0.92)(21.7,0.84)(24,0.84)(26.4,0.76)(28.1,1.78)(29.3,2.65)(30.5,1.86)(32.2,0.37)(34,0.68)(35.8,1.31)(37.5,0.84)(39.3,0.29)(41,0.05)(43.4,0.02)(45.7,0.21)(48.1,0.29)(50.4,0.6)(52.8,0.84)(54.5,0.92)(56.3,0.84)(58,0.68)(60.4,0.76)
(64,nan)
(66.3,0.09)(68.6,0.05)(70.9,0.04)(73.3,0.05)(75.6,0.13)(78,0.37)(79.7,0.68)(81.5,0.53)(83.3,0.29)(85,0.53)(86.8,0.37)(88.5,0.6)(90.9,0.37)(93.2,0.76)(95.6,1.15)(97.3,1.31)(99.1,0.84)(100.8,0.53)(102.6,0.37)(104.9,0.45)(107.3,0.21)(109.6,0.45)
(111,nan)
(112,2.02)(113.2,1.31)(114.9,0.53)(116.7,0.37)(119,0.6)(121.4,0.29)(123.1,0.84)(124.9,0.68)(126.6,0.21)(129,0.53)(131.3,0.6)(133.7,1.15)(135.4,0.84)(137.2,0.37)(139.5,0.6)(141.3,0.53)(143,0.76)(144.8,0.29)(146.6,0.53)(148.3,0.6)(150.7,2.02)(153,1.9)(155.4,1.94)(157.7,2.13)
(159,nan)
(160.1,0.53)(161.8,0.29)(163.6,0.29)(165.3,0.37)(167.1,0.68)(168.9,0.6)(170.6,0.53)(172.4,0.68)(174.1,1.0)(175.9,1.55)(177.6,2.13)(179.4,1.0)(181.2,0.29)(182.9,0.53)(184.7,0.6)(186.4,0.29)(188.2,0.29)(189.9,0.45)(192.3,0.6)(194.6,0.68)(197,0.53)
(198.5,nan)
(199.9,0.09)(202.3,0.05)(204.6,0.09)(207,0.29)(209.3,0.41)(211.7,0.21)(214,0.05)(216.3,0.21)(218.7,0.37)(221,0.29)(223.4,0.09)(225.7,0.13)(228.1,0.37)(230.4,0.53)(232.8,0.68)(235.1,0.84)(236.9,1.15)(238.6,1.0)(240.4,0.68)(242.1,0.29)(243.9,0.37)(245.7,0.21)(247.4,0.45)(249.2,0.29)(250.9,0.53)(252.7,0.45)(255,0.6)(257.4,0.53)
};
\end{axis}
\end{tikzpicture}
\end{document}
